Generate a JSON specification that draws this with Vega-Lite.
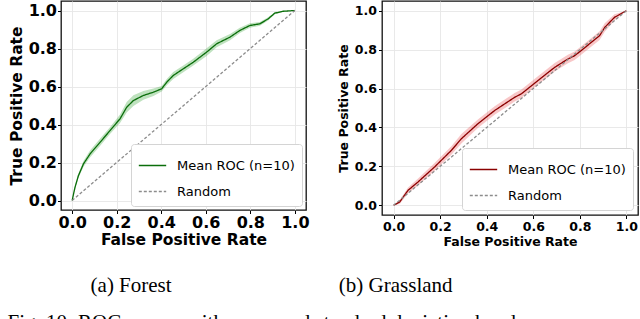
{
  "$schema": "https://vega.github.io/schema/vega-lite/v6.json",
  "padding": {"left": 7, "top": 0, "right": 0, "bottom": 0},
  "background": "white",
  "datasets": {
    "forest": [
      {"fpr": 0, "tpr": 0, "lo": 0, "hi": 0, "series": "Mean ROC (n=10)"},
      {"fpr": 0.013, "tpr": 0.07, "lo": 0.062, "hi": 0.078, "series": "Mean ROC (n=10)"},
      {"fpr": 0.028, "tpr": 0.13, "lo": 0.118, "hi": 0.142, "series": "Mean ROC (n=10)"},
      {"fpr": 0.051, "tpr": 0.193, "lo": 0.178, "hi": 0.208, "series": "Mean ROC (n=10)"},
      {"fpr": 0.081, "tpr": 0.246, "lo": 0.228, "hi": 0.264, "series": "Mean ROC (n=10)"},
      {"fpr": 0.126, "tpr": 0.307, "lo": 0.288, "hi": 0.326, "series": "Mean ROC (n=10)"},
      {"fpr": 0.17, "tpr": 0.368, "lo": 0.35, "hi": 0.386, "series": "Mean ROC (n=10)"},
      {"fpr": 0.215, "tpr": 0.43, "lo": 0.408, "hi": 0.452, "series": "Mean ROC (n=10)"},
      {"fpr": 0.245, "tpr": 0.491, "lo": 0.463, "hi": 0.519, "series": "Mean ROC (n=10)"},
      {"fpr": 0.275, "tpr": 0.526, "lo": 0.498, "hi": 0.554, "series": "Mean ROC (n=10)"},
      {"fpr": 0.32, "tpr": 0.553, "lo": 0.53, "hi": 0.576, "series": "Mean ROC (n=10)"},
      {"fpr": 0.365, "tpr": 0.57, "lo": 0.55, "hi": 0.59, "series": "Mean ROC (n=10)"},
      {"fpr": 0.402, "tpr": 0.588, "lo": 0.574, "hi": 0.602, "series": "Mean ROC (n=10)"},
      {"fpr": 0.425, "tpr": 0.623, "lo": 0.607, "hi": 0.639, "series": "Mean ROC (n=10)"},
      {"fpr": 0.454, "tpr": 0.658, "lo": 0.64, "hi": 0.676, "series": "Mean ROC (n=10)"},
      {"fpr": 0.499, "tpr": 0.693, "lo": 0.675, "hi": 0.711, "series": "Mean ROC (n=10)"},
      {"fpr": 0.544, "tpr": 0.728, "lo": 0.71, "hi": 0.746, "series": "Mean ROC (n=10)"},
      {"fpr": 0.604, "tpr": 0.781, "lo": 0.761, "hi": 0.801, "series": "Mean ROC (n=10)"},
      {"fpr": 0.649, "tpr": 0.825, "lo": 0.807, "hi": 0.843, "series": "Mean ROC (n=10)"},
      {"fpr": 0.709, "tpr": 0.86, "lo": 0.844, "hi": 0.876, "series": "Mean ROC (n=10)"},
      {"fpr": 0.753, "tpr": 0.895, "lo": 0.881, "hi": 0.909, "series": "Mean ROC (n=10)"},
      {"fpr": 0.798, "tpr": 0.921, "lo": 0.909, "hi": 0.933, "series": "Mean ROC (n=10)"},
      {"fpr": 0.843, "tpr": 0.93, "lo": 0.92, "hi": 0.94, "series": "Mean ROC (n=10)"},
      {"fpr": 0.88, "tpr": 0.956, "lo": 0.948, "hi": 0.964, "series": "Mean ROC (n=10)"},
      {"fpr": 0.91, "tpr": 0.986, "lo": 0.98, "hi": 0.992, "series": "Mean ROC (n=10)"},
      {"fpr": 0.948, "tpr": 0.996, "lo": 0.993, "hi": 0.999, "series": "Mean ROC (n=10)"},
      {"fpr": 1, "tpr": 1, "lo": 1, "hi": 1, "series": "Mean ROC (n=10)"},
      {"fpr": 0, "tpr": 0, "series": "Random"},
      {"fpr": 1, "tpr": 1, "series": "Random"}
    ],
    "grass": [
      {"fpr": 0, "tpr": 0, "lo": 0, "hi": 0, "series": "Mean ROC (n=10)"},
      {"fpr": 0.026, "tpr": 0.017, "lo": 0.007, "hi": 0.027, "series": "Mean ROC (n=10)"},
      {"fpr": 0.062, "tpr": 0.077, "lo": 0.062, "hi": 0.092, "series": "Mean ROC (n=10)"},
      {"fpr": 0.105, "tpr": 0.12, "lo": 0.102, "hi": 0.138, "series": "Mean ROC (n=10)"},
      {"fpr": 0.176, "tpr": 0.197, "lo": 0.177, "hi": 0.217, "series": "Mean ROC (n=10)"},
      {"fpr": 0.248, "tpr": 0.282, "lo": 0.26, "hi": 0.304, "series": "Mean ROC (n=10)"},
      {"fpr": 0.291, "tpr": 0.342, "lo": 0.318, "hi": 0.366, "series": "Mean ROC (n=10)"},
      {"fpr": 0.362, "tpr": 0.419, "lo": 0.397, "hi": 0.441, "series": "Mean ROC (n=10)"},
      {"fpr": 0.434, "tpr": 0.487, "lo": 0.465, "hi": 0.509, "series": "Mean ROC (n=10)"},
      {"fpr": 0.52, "tpr": 0.555, "lo": 0.533, "hi": 0.577, "series": "Mean ROC (n=10)"},
      {"fpr": 0.549, "tpr": 0.573, "lo": 0.551, "hi": 0.595, "series": "Mean ROC (n=10)"},
      {"fpr": 0.62, "tpr": 0.641, "lo": 0.619, "hi": 0.663, "series": "Mean ROC (n=10)"},
      {"fpr": 0.692, "tpr": 0.709, "lo": 0.687, "hi": 0.731, "series": "Mean ROC (n=10)"},
      {"fpr": 0.749, "tpr": 0.752, "lo": 0.73, "hi": 0.774, "series": "Mean ROC (n=10)"},
      {"fpr": 0.778, "tpr": 0.769, "lo": 0.747, "hi": 0.791, "series": "Mean ROC (n=10)"},
      {"fpr": 0.814, "tpr": 0.803, "lo": 0.781, "hi": 0.825, "series": "Mean ROC (n=10)"},
      {"fpr": 0.85, "tpr": 0.838, "lo": 0.816, "hi": 0.86, "series": "Mean ROC (n=10)"},
      {"fpr": 0.885, "tpr": 0.872, "lo": 0.85, "hi": 0.894, "series": "Mean ROC (n=10)"},
      {"fpr": 0.907, "tpr": 0.914, "lo": 0.892, "hi": 0.936, "series": "Mean ROC (n=10)"},
      {"fpr": 0.949, "tpr": 0.966, "lo": 0.95, "hi": 0.982, "series": "Mean ROC (n=10)"},
      {"fpr": 1, "tpr": 1, "lo": 1, "hi": 1, "series": "Mean ROC (n=10)"},
      {"fpr": 0, "tpr": 0, "series": "Random"},
      {"fpr": 1, "tpr": 1, "series": "Random"}
    ]
  },
  "title": {
    "text": "Fig. 10: ROC curves with mean and standard deviation bands",
    "orient": "bottom",
    "anchor": "start",
    "font": "Liberation Serif",
    "fontSize": 21,
    "fontWeight": "normal",
    "color": "#000",
    "offset": 15,
    "dx": -1
  },
  "hconcat": [
    {
      "width": 245,
      "height": 209,
      "data": {"name": "forest"},
      "title": {
        "text": "(a) Forest",
        "orient": "bottom",
        "anchor": "middle",
        "frame": "bounds",
        "font": "Liberation Serif",
        "fontSize": 21,
        "fontWeight": "normal",
        "color": "#000",
        "offset": 27,
        "dx": -28
      },
      "layer": [
        {
          "transform": [{"filter": "datum.series !== 'Random'"}],
          "mark": {"type": "area", "color": "#2ca02c", "opacity": 0.3},
          "encoding": {
            "x": {"field": "fpr", "type": "quantitative"},
            "y": {"field": "lo", "type": "quantitative"},
            "y2": {"field": "hi"}
          }
        },
        {
          "mark": {"type": "line", "strokeWidth": 1.3},
          "encoding": {
            "x": {
              "field": "fpr", "type": "quantitative",
              "scale": {"domain": [-0.05, 1.05], "nice": false, "zero": false},
              "axis": {"values": [0, 0.2, 0.4, 0.6, 0.8, 1.0], "format": ".1f", "title": "False Positive Rate",
                       "labelFontSize": 16, "titleFontSize": 15.5, "labelPadding": 1, "titlePadding": 2}
            },
            "y": {
              "field": "tpr", "type": "quantitative",
              "scale": {"domain": [-0.05, 1.05], "nice": false, "zero": false},
              "axis": {"values": [0, 0.2, 0.4, 0.6, 0.8, 1.0], "format": ".1f", "title": "True Positive Rate",
                       "labelFontSize": 16, "titleFontSize": 15.5, "labelPadding": 1, "titlePadding": 4}
            },
            "color": {
              "field": "series", "type": "nominal",
              "scale": {"domain": ["Mean ROC (n=10)", "Random"], "range": ["#0b6e0b", "#8c8c8c"]},
              "legend": {"title": null, "orient": "bottom-right", "offset": 4}
            },
            "strokeDash": {
              "field": "series", "type": "nominal",
              "scale": {"domain": ["Mean ROC (n=10)", "Random"], "range": [[1, 0], [3, 2]]},
              "legend": {"title": null, "orient": "bottom-right", "offset": 4}
            }
          }
        }
      ]
    },
    {
      "width": 256,
      "height": 214,
      "data": {"name": "grass"},
      "title": {
        "text": "(b) Grassland",
        "orient": "bottom",
        "anchor": "middle",
        "frame": "bounds",
        "font": "Liberation Serif",
        "fontSize": 21,
        "fontWeight": "normal",
        "color": "#000",
        "offset": 27,
        "dx": -92
      },
      "layer": [
        {
          "transform": [{"filter": "datum.series !== 'Random'"}],
          "mark": {"type": "area", "color": "#e8474a", "opacity": 0.3},
          "encoding": {
            "x": {"field": "fpr", "type": "quantitative"},
            "y": {"field": "lo", "type": "quantitative"},
            "y2": {"field": "hi"}
          }
        },
        {
          "mark": {"type": "line", "strokeWidth": 1.3},
          "encoding": {
            "x": {
              "field": "fpr", "type": "quantitative",
              "scale": {"domain": [-0.05, 1.05], "nice": false, "zero": false},
              "axis": {"values": [0, 0.2, 0.4, 0.6, 0.8, 1.0], "format": ".1f", "title": "False Positive Rate",
                       "labelFontSize": 12.5, "titleFontSize": 12.5, "labelPadding": 2, "titlePadding": 2}
            },
            "y": {
              "field": "tpr", "type": "quantitative",
              "scale": {"domain": [-0.05, 1.05], "nice": false, "zero": false},
              "axis": {"values": [0, 0.2, 0.4, 0.6, 0.8, 1.0], "format": ".1f", "title": "True Positive Rate",
                       "labelFontSize": 12.5, "titleFontSize": 12.5, "labelPadding": 2, "titlePadding": 4}
            },
            "color": {
              "field": "series", "type": "nominal",
              "scale": {"domain": ["Mean ROC (n=10)", "Random"], "range": ["#8b0000", "#8c8c8c"]},
              "legend": {"title": null, "orient": "bottom-right", "offset": 5}
            },
            "strokeDash": {
              "field": "series", "type": "nominal",
              "scale": {"domain": ["Mean ROC (n=10)", "Random"], "range": [[1, 0], [3, 2]]},
              "legend": {"title": null, "orient": "bottom-right", "offset": 5}
            }
          }
        }
      ]
    }
  ],
  "spacing": 26,
  "resolve": {
    "scale": {"color": "independent", "strokeDash": "independent", "x": "independent", "y": "independent"},
    "legend": {"color": "independent", "strokeDash": "independent"}
  },
  "config": {
    "view": {"stroke": "#111", "strokeWidth": 1.3},
    "axis": {
      "grid": true, "gridColor": "#e6e6e6", "gridWidth": 0.9,
      "domain": false, "tickColor": "#000", "tickSize": 3.5, "tickWidth": 1,
      "labelFont": "DejaVu Sans", "labelFontWeight": "bold", "labelColor": "#000",
      "titleFont": "DejaVu Sans", "titleFontWeight": "bold", "titleColor": "#000"
    },
    "legend": {
      "fillColor": "white", "strokeColor": "#d4d4d4", "cornerRadius": 3,
      "padding": 7, "symbolType": "stroke", "symbolSize": 750, "symbolStrokeWidth": 1.4,
      "labelFont": "DejaVu Sans", "labelFontSize": 13, "labelColor": "#000",
      "rowPadding": 4, "labelOffset": 10
    }
  }
}
